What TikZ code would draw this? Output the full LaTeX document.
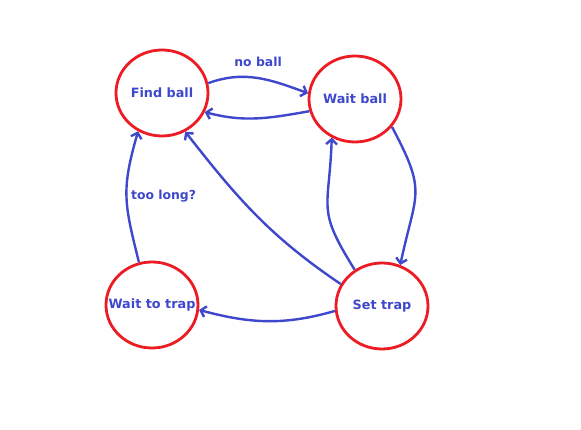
\documentclass[tikz,border=0pt]{standalone}
\usepackage{fontspec}
\setsansfont{DejaVu Sans}
\usetikzlibrary{shapes.geometric,arrows.meta,backgrounds}
\definecolor{ringred}{RGB}{237, 28, 36}
\definecolor{inkblue}{RGB}{63, 72, 204}
\definecolor{white}{RGB}{255, 255, 255}

\begin{document}
\begin{tikzpicture}[
        x=1pt, y=1pt,
        background rectangle/.style={fill=white},
        inner frame sep=0pt,
        show background rectangle,
        state/.style={
            ellipse,
            draw=ringred,
            line width=2.8pt,
            minimum width=92pt,
            minimum height=86pt,
            inner xsep=-14pt,
            inner ysep=0pt,
            text=inkblue,
            font=\sffamily\bfseries\fontsize{12.8}{15}\selectfont
        },
        move/.style={
            draw=inkblue,
            line width=2.4pt,
            -{Straight Barb[length=5pt,width=11pt]}
        },
        tag/.style={
            text=inkblue,
            font=\sffamily\bfseries\fontsize{12.4}{14}\selectfont
        }
    ]
    \useasboundingbox (0,0) rectangle (581,430);

        \node[state] (find) at (162,337) {Find ball};
        \node[state] (wait) at (355,331) {Wait ball};
        \node[state] (waittrap) at (152,125) {Wait to trap};
        \node[state] (settrap) at (382,124) {Set trap};

        \draw[move] (find.12) to[out=20,in=160]
            node[tag, above=7pt] (noball) {no ball} (wait.173);
        \draw[move] (wait.195) to[out=190,in=-15] (find.-24);
        \draw[move] (wait.-37) to[out=-62,in=78,looseness=1.4] (settrap.66);
        \draw[move] (settrap.127) to[out=122,in=-92,looseness=1.4] (wait.-121);
        \draw[move] (settrap.152) to[out=146,in=-52] (find.-59);
        \draw[move] (settrap.186) to[out=196,in=-15] (waittrap.-6);
        \draw[move] (waittrap.107) to[out=104,in=-106,looseness=1.2]
            node[tag, right=0pt] (toolong) {too long?} (find.238);

    \end{tikzpicture}
\end{document}
